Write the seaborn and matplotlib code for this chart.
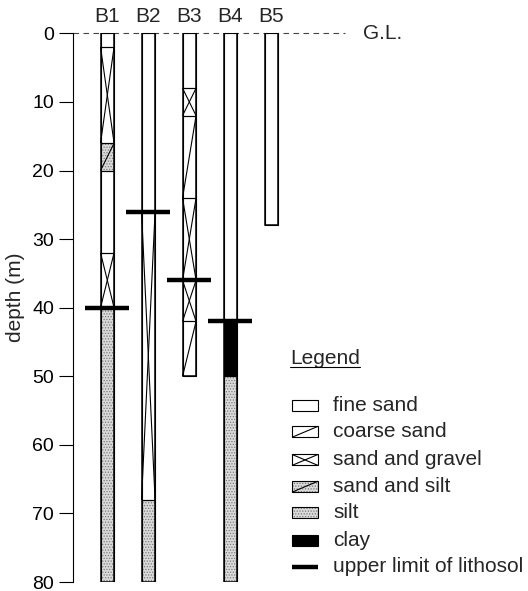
import matplotlib
matplotlib.use("Agg")
import matplotlib.pyplot as plt
import pandas as pd
import seaborn as sns

# Boreholes and their total drilled depth (m)
holes = ["B1", "B2", "B3", "B4", "B5"]
hole_depth = [80, 80, 50, 80, 28]

# Lithological layers: borehole, top (m), bottom (m), soil type
layer_hole = ["B1"] * 6 + ["B2"] * 3 + ["B3"] * 6 + ["B4"] * 3 + ["B5"]
layer_top = [0, 2, 16, 20, 32, 40,
             0, 26, 68,
             0, 8, 12, 24, 36, 42,
             0, 42, 50,
             0]
layer_bottom = [2, 16, 20, 32, 40, 80,
                26, 68, 80,
                8, 12, 24, 36, 42, 50,
                42, 50, 80,
                28]
layer_type = ["fine sand", "sand and gravel", "sand and silt", "fine sand", "sand and gravel", "silt",
              "fine sand", "sand and gravel", "silt",
              "fine sand", "sand and gravel", "coarse sand", "sand and gravel", "sand and gravel", "coarse sand",
              "fine sand", "clay", "silt",
              "fine sand"]

# Upper limit of the lithosol in each borehole (m)
lithosol_hole = ["B1", "B2", "B3", "B4"]
lithosol_depth = [40, 26, 36, 42]

legend_types = ["fine sand", "coarse sand", "sand and gravel", "sand and silt", "silt", "clay"]
legend_line_label = "upper limit of lithosol"

layers = pd.DataFrame({"hole": layer_hole, "top": layer_top,
                       "bottom": layer_bottom, "type": layer_type})

sns.set_theme(style="ticks")
plt.rcParams["font.family"] = ["Liberation Sans", "DejaVu Sans"]
plt.rcParams["hatch.linewidth"] = 0.6

FS = 15
TICK_FS = 14
COL_W = 0.33
SILT_FACE = "#dadada"
SILT_DOT = "#7a7a7a"

fig = plt.figure(figsize=(5.28, 5.91), dpi=100)
ax = fig.add_axes([0.1377, 0.0152, 0.8623, 0.9284])


def draw_layer(ax, x, top, bot, kind, w):
    h = bot - top
    if kind in ("silt", "sand and silt"):
        ax.bar(x, h, bottom=top, width=w, color=SILT_FACE, hatch="......",
               edgecolor=SILT_DOT, linewidth=0, zorder=1)
    elif kind == "clay":
        ax.bar(x, h, bottom=top, width=w, color="black", linewidth=0, zorder=1)
    if kind in ("coarse sand", "sand and silt", "sand and gravel"):
        ax.plot([x - w / 2, x + w / 2], [bot, top], color="black", lw=0.8,
                zorder=2, solid_capstyle="butt")
    if kind == "sand and gravel":
        ax.plot([x - w / 2, x + w / 2], [top, bot], color="black", lw=0.8,
                zorder=2, solid_capstyle="butt")
    ax.bar(x, h, bottom=top, width=w, fill=False, edgecolor="black",
           linewidth=0.8, zorder=3)


xpos = {h: i for i, h in enumerate(holes)}
for row in layers.itertuples():
    draw_layer(ax, xpos[row.hole], row.top, row.bottom, row.type, COL_W)

# Borehole casings
sns.barplot(x=holes, y=hole_depth, fill=False, color="black", width=COL_W,
            linewidth=1.1, errorbar=None, zorder=4, ax=ax)

# Lithosol limits
for h, d in zip(lithosol_hole, lithosol_depth):
    ax.hlines(d, xpos[h] - 0.535, xpos[h] + 0.535, color="black", lw=3.2, zorder=5)

# Ground level
ax.plot([-0.844, 5.80], [0, 0], color="#444444", lw=0.8,
        linestyle=(0, (5, 4)), zorder=0, clip_on=False)
ax.text(6.24, 0, "G.L.", fontsize=FS, ha="left", va="center")

# Legend
leg_x0, leg_w = 4.505, 0.634
leg_y = [54.2, 58.1, 62.2, 66.1, 69.9, 73.9]
title = ax.text(leg_x0 - 0.05, 47.4, "Legend", fontsize=FS, ha="left", va="center")
for kind, y in zip(legend_types, leg_y):
    draw_layer(ax, leg_x0 + leg_w / 2, y - 0.8, y + 0.8, kind, leg_w)
    ax.text(leg_x0 + 1.0, y, kind, fontsize=FS, ha="left", va="center")
ax.hlines(77.8, leg_x0, leg_x0 + leg_w, color="black", lw=3.2)
ax.text(leg_x0 + 1.0, 77.8, legend_line_label, fontsize=FS, ha="left", va="center")

ax.set_xlim(-0.844, 10.261)
ax.set_ylim(80, 0)
ax.set_xlabel("")
ax.set_xticks(range(len(holes)))
ax.set_xticklabels(holes, fontsize=FS)
ax.xaxis.tick_top()
ax.tick_params(axis="x", length=0, pad=5)
ax.set_yticks(range(0, 81, 10))
ax.tick_params(axis="y", length=10.4, width=0.8, pad=3, labelsize=TICK_FS, colors="black")
ax.set_ylabel("depth (m)", fontsize=FS)
ax.yaxis.set_label_coords(-0.105, 0.519)
for side in ("top", "right", "bottom"):
    ax.spines[side].set_visible(False)
ax.spines["left"].set_bounds(0, 80)
ax.spines["left"].set_linewidth(0.8)
ax.spines["left"].set_color("black")

# Underline for legend title
fig.canvas.draw()
bb = title.get_window_extent()
inv = fig.transFigure.inverted()
(x0, y0), (x1, _) = inv.transform([(bb.x0, bb.y0 + 1), (bb.x1, bb.y0 + 1)])
fig.add_artist(plt.Line2D([x0, x1], [y0, y0], color="black", lw=0.8))

fig.savefig("out.png", dpi=100)
